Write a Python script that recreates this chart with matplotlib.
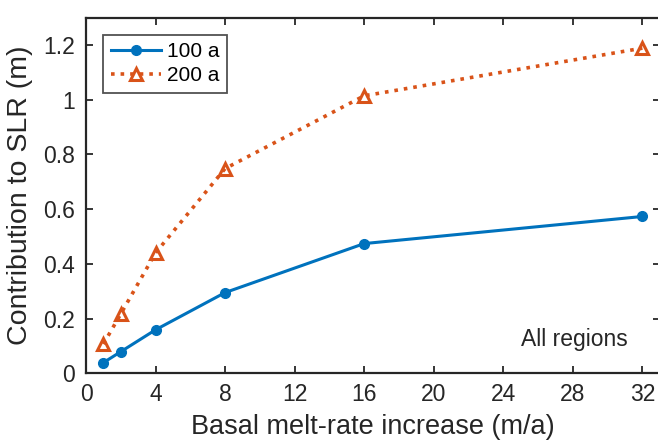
import matplotlib
matplotlib.use("Agg")
import matplotlib.pyplot as plt

plt.rcParams['font.family'] = ['Liberation Sans', 'DejaVu Sans']

melt_rate = [1, 2, 4, 8, 16, 32]
slr_100a = [0.039, 0.079, 0.159, 0.295, 0.474, 0.573]
slr_200a = [0.107, 0.217, 0.440, 0.748, 1.014, 1.188]
xticks = [0, 4, 8, 12, 16, 20, 24, 28, 32]
yticks = [0, 0.2, 0.4, 0.6, 0.8, 1.0, 1.2]
yticklabels = ['0', '0.2', '0.4', '0.6', '0.8', '1', '1.2']

fig = plt.figure(figsize=(6.58, 4.42), dpi=100)
ax = fig.add_axes([0.1307, 0.1554, 0.872, 0.805])

ax.plot(melt_rate, slr_100a, '-o', color='#0072BD', lw=2.2, ms=7, label='100 a')
ax.plot(melt_rate, slr_200a, ':^', color='#D95319', lw=2.6, ms=9, mfc='none', mew=2.2, label='200 a')

ax.set_xlim(0, 33)
ax.set_ylim(0, 1.3)
ax.set_xticks(xticks)
ax.set_yticks(yticks)
ax.set_yticklabels(yticklabels)
ax.tick_params(direction='in', top=True, right=True, length=5, width=1.3, labelsize=16.5,
               colors='#262626')
ax.tick_params(axis='y', pad=8)
ax.tick_params(axis='x', pad=7)
for s in ax.spines.values():
    s.set_linewidth(1.6)
    s.set_color('#262626')

ax.set_xlabel('Basal melt-rate increase (m/a)', fontsize=19.5, color='#262626')
ax.set_ylabel('Contribution to SLR (m)', fontsize=20.5, color='#262626')
ax.xaxis.set_label_coords(0.5, -0.115)
ax.yaxis.set_label_coords(-0.092, 0.5)

leg = ax.legend(loc='upper left', fontsize=15, handlelength=2.4, handletextpad=0.3,
                borderpad=0.35, labelspacing=0.25, borderaxespad=0, fancybox=False,
                edgecolor='#262626', bbox_to_anchor=(0.03, 0.951))
leg.get_frame().set_linewidth(1.3)

ax.text(31.15, 0.122, 'All regions', fontsize=16.5, ha='right', va='center', color='#262626')

fig.savefig('out.png', dpi=100)
